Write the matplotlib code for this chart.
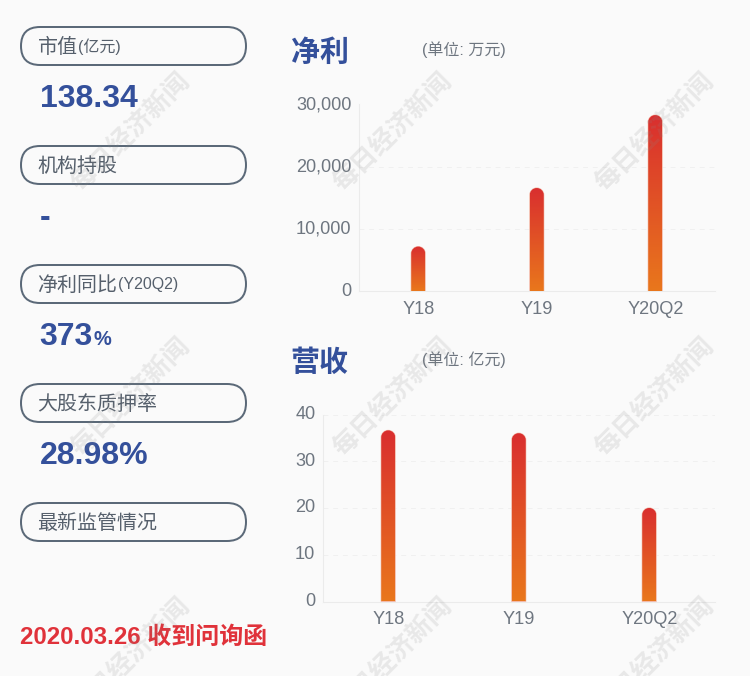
import numpy as np
import matplotlib
matplotlib.use('Agg')
import matplotlib.pyplot as plt
from matplotlib.colors import LinearSegmentedColormap
from matplotlib.patches import FancyBboxPatch, PathPatch
from matplotlib.path import Path

plt.rcParams['font.family'] = ['Liberation Sans', 'Noto Sans CJK SC', 'DejaVu Sans']

years = ['Y18', 'Y19', 'Y20Q2']
profit = [7200, 16600, 28300]
revenue = [36.6, 36.0, 20.0]
profit_ticks = [0, 10000, 20000, 30000]
revenue_ticks = [0, 10, 20, 30, 40]

pill_titles = ['市值', '机构持股', '净利同比', '大股东质押率', '最新监管情况']
pill_notes = ['(亿元)', '', '(Y20Q2)', '', '']
stat_values = ['138.34', '-', '373', '28.98%']
notice = '2020.03.26 收到问询函'

BG = '#fafafa'
BLUE = '#34509b'
GREY = '#56606c'
TICK = '#6e7680'
W, H = 750, 676

bar_cmap = LinearSegmentedColormap.from_list('bar', ['#e9771c', '#d92e2f'])


def px(size):
    # css pixels to points at dpi 100
    return size * 0.72


def make_axes(fig, left, right, top, bottom):
    return fig.add_axes([left / W, 1 - bottom / H, (right - left) / W, (bottom - top) / H])


def draw_bar(ax, x, value, width_px=14):
    bbox = ax.get_window_extent()
    x0, x1 = ax.get_xlim()
    y0, y1 = ax.get_ylim()
    hw = width_px / 2 * (x1 - x0) / bbox.width
    ry = width_px / 2 * (y1 - y0) / bbox.height
    k = 0.5523
    verts = [(x - hw, 0), (x - hw, value - ry),
             (x - hw, value - ry + k * ry), (x - k * hw, value), (x, value),
             (x + k * hw, value), (x + hw, value - ry + k * ry), (x + hw, value - ry),
             (x + hw, 0), (x - hw, 0)]
    codes = [Path.MOVETO, Path.LINETO,
             Path.CURVE4, Path.CURVE4, Path.CURVE4,
             Path.CURVE4, Path.CURVE4, Path.CURVE4,
             Path.LINETO, Path.CLOSEPOLY]
    patch = PathPatch(Path(verts, codes), facecolor='none', edgecolor='#f3b9a8',
                      linewidth=0.8, zorder=2.5)
    ax.add_patch(patch)
    grad = np.linspace(1, 0, 256).reshape(-1, 1)
    im = ax.imshow(grad, extent=[x - hw, x + hw, 0, value], aspect='auto', cmap=bar_cmap,
                   vmin=0, vmax=1, zorder=3, interpolation='bilinear')
    im.set_clip_path(patch)


def bar_chart(fig, box, values, ticks, ymax, labels):
    ax = make_axes(fig, *box)
    ax.set_facecolor('none')
    ax.set_xlim(-0.5, 2.5)
    ax.set_ylim(0, ymax)
    for i, v in enumerate(values):
        draw_bar(ax, i, v)
    ax.set_xlim(-0.5, 2.5)
    ax.set_ylim(0, ymax)
    ax.set_xticks(range(len(labels)))
    ax.set_xticklabels(labels)
    ax.set_yticks(ticks)
    ax.set_yticklabels([f'{t:,}' for t in ticks], va='center')
    ax.tick_params(length=0, labelsize=px(18.2), labelcolor=TICK)
    ax.tick_params(axis='x', pad=6.5)
    ax.tick_params(axis='y', pad=5.5)
    ax.grid(axis='y', color='#f0f0f0', linewidth=0.7, linestyle=(0, (5, 5)))
    ax.set_axisbelow(True)
    for s in ['top', 'right']:
        ax.spines[s].set_visible(False)
    for s in ['left', 'bottom']:
        ax.spines[s].set_color('#ebebeb')
        ax.spines[s].set_linewidth(0.8)
    return ax


fig = plt.figure(figsize=(W / 100, H / 100), dpi=100, facecolor=BG)

bar_chart(fig, (359, 714.5, 104.5, 291.5), profit, profit_ticks, 30000, years)
bar_chart(fig, (323, 714.5, 414.5, 601.5), revenue, revenue_ticks, 40, years)

# overlay in pixel coordinates for the panel text
ov = fig.add_axes([0, 0, 1, 1])
ov.set_xlim(0, W)
ov.set_ylim(H, 0)
ov.axis('off')
ov.patch.set_alpha(0)

for i, title in enumerate(pill_titles):
    top = 27 + i * 119
    ov.add_patch(FancyBboxPatch((21, top), 225, 38,
                                boxstyle='round,pad=0,rounding_size=19',
                                facecolor='none', edgecolor='#5b6978', linewidth=px(2)))
    ov.text(37.5, top + 20.5, title, fontsize=px(20), color=GREY, va='center', ha='left')
    if pill_notes[i]:
        note_x = 38 + 20 * len(title)
        ov.text(note_x, top + 20, pill_notes[i], fontsize=px(16), color=GREY, va='center', ha='left')

for i, val in enumerate(stat_values):
    ov.text(39.5, 99 + i * 119, val, fontsize=px(32), color=BLUE, fontweight='bold', va='center', ha='left')
ov.text(93, 339.5, '%', fontsize=px(20), color=BLUE, fontweight='bold', va='center', ha='left')

ov.text(20, 637, notice, fontsize=px(24), color='#e0323a', fontweight='bold', va='center', ha='left')

ov.text(291, 53, '净利', fontsize=px(29), color=BLUE, fontweight='bold', va='center', ha='left')
ov.text(290, 363, '营收', fontsize=px(29), color=BLUE, fontweight='bold', va='center', ha='left')
ov.text(422, 50, '(单位: 万元)', fontsize=px(16), color=TICK, va='center', ha='left')
ov.text(422, 360, '(单位: 亿元)', fontsize=px(16), color=TICK, va='center', ha='left')

# watermark grid
for wy in [132, 397, 657]:
    for wx in [131, 393, 655]:
        ov.text(wx, wy, '每日经济新闻', fontsize=px(26), color='#8a8a8a', alpha=0.16, fontweight='bold',
                rotation=45, rotation_mode='anchor', va='center', ha='center', clip_on=True)

fig.savefig('out.png', dpi=100, facecolor=BG)
